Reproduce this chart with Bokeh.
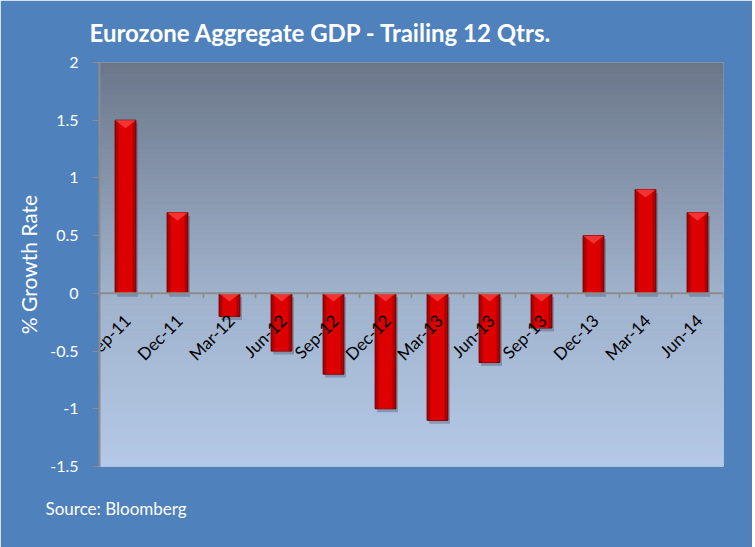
import numpy as np
from bokeh.plotting import figure
from bokeh.models import Range1d, FixedTicker, Span, Title
from bokeh.core.properties import value
from bokeh.embed import file_html
from bokeh.resources import INLINE

categories = ["Sep-11", "Dec-11", "Mar-12", "Jun-12", "Sep-12", "Dec-12",
              "Mar-13", "Jun-13", "Sep-13", "Dec-13", "Mar-14", "Jun-14"]
growth = [1.5, 0.7, -0.2, -0.5, -0.7, -1.0, -1.1, -0.6, -0.3, 0.5, 0.9, 0.7]
yticks = [-1.5, -1, -0.5, 0, 0.5, 1, 1.5, 2]
ytick_labels = ["-1.5", "-1", "-0.5", "0", "0.5", "1", "1.5", "2"]

title_text = "Eurozone Aggregate GDP - Trailing 12 Qtrs."
source_text = "Source: Bloomberg"
ylabel = "% Growth Rate"

BLUE = "#4F81BD"
GREY = "#8C8C8C"
FONT = "Lato"

n = len(categories)
xs = [i + 0.5 for i in range(n)]
bounds = list(range(n + 1))
ymin, ymax = yticks[0], yticks[-1]
bar_w = 0.4

p = figure(width=752, height=547, output_backend="svg", toolbar_location=None,
           x_range=Range1d(0, n), y_range=Range1d(ymin, ymax),
           min_border_left=99, min_border_right=29, min_border_top=62,
           min_border_bottom=81)
p.border_fill_color = BLUE
p.background_fill_color = "#A0B2CC"
p.outline_line_color = None

# gradient background (decoration)
def hex2rgb(h):
    h = h.lstrip("#")
    return np.array([int(h[i:i + 2], 16) for i in (0, 2, 4)], dtype=float)

stops_y = [ymin, 0.0, ymax]
stops_c = [hex2rgb("#B4C9E7"), hex2rgb("#A0B2CC"), hex2rgb("#6B7789")]
nb = 80
edges = np.linspace(ymin, ymax, nb + 1)
mids = (edges[:-1] + edges[1:]) / 2
cols = []
for m in mids:
    c = np.array([np.interp(m, stops_y, [s[k] for s in stops_c]) for k in range(3)])
    cols.append("#%02x%02x%02x" % tuple(int(round(v)) for v in c))
p.quad(left=0, right=n, bottom=edges[:-1], top=edges[1:], fill_color=cols,
       line_color=cols, line_width=1)

# grid
p.xgrid.visible = False
p.ygrid.ticker = FixedTicker(ticks=yticks)
p.ygrid.grid_line_color = "#DDE2E9"
p.ygrid.grid_line_width = 2

# y axis
p.yaxis.ticker = FixedTicker(ticks=yticks)
p.yaxis.major_label_overrides = {t: l for t, l in zip(yticks, ytick_labels)}
p.yaxis.major_label_text_color = "white"
p.yaxis.major_label_text_font = FONT
p.yaxis.major_label_text_font_size = "16px"
p.yaxis.major_tick_out = 7
p.yaxis.major_tick_in = 0
p.yaxis.minor_tick_line_color = None
p.yaxis.major_tick_line_color = GREY
p.yaxis.axis_line_color = GREY
p.yaxis.axis_line_width = 2
p.yaxis.major_label_standoff = 14
p.yaxis.axis_label = ylabel
p.yaxis.axis_label_text_color = "white"
p.yaxis.axis_label_text_font = FONT
p.yaxis.axis_label_text_font_style = "normal"
p.yaxis.axis_label_text_font_size = "21px"
p.yaxis.axis_label_standoff = 6

# x axis drawn at zero: line + downward ticks at category boundaries
p.xaxis.visible = False

# bars: shadow, body, highlight, top chevron
p.vbar(x=[x + 0.04 for x in xs], top=[g - 0.03 for g in growth],
       bottom=[-0.03] * n, width=bar_w, fill_color="#3A4A60", fill_alpha=0.35,
       line_color=None)
p.vbar(x=xs, top=growth, bottom=0, width=bar_w, fill_color="#B00000",
       line_color="#6E0000", line_width=1)
p.vbar(x=xs, top=growth, bottom=0, width=0.27, fill_color="#DC0000",
       line_color=None)
tops = [max(g, 0) for g in growth]
chev = 0.07
p.patches(xs=[[x - bar_w / 2, x + bar_w / 2, x] for x in xs],
          ys=[[t, t, t - chev] for t in tops],
          fill_color="#F23A3A", fill_alpha=0.9, line_color=None)

p.add_layout(Span(location=0, dimension="width", line_color=GREY, line_width=2))
p.ray(x=bounds, y=0, length=5, length_units="screen", angle=-np.pi / 2,
      line_color=GREY, line_width=1.5)

# category labels
p.text(x=xs, y=[0] * n, text=categories, angle=np.pi / 4, text_align="right",
       text_baseline="middle", x_offset=2, y_offset=24,
       text_font=value(FONT), text_font_size="17px", text_color="black")

# title and source
p.add_layout(Title(text=title_text, align="left", offset=-10, standoff=31,
                   text_font=FONT, text_font_style="bold",
                   text_font_size="24px", text_color="white"), "above")
p.add_layout(Title(text=source_text, align="left", offset=-54, standoff=58,
                   text_font=FONT, text_font_style="normal",
                   text_font_size="17px", text_color="white"), "below")

open("out.html", "w").write(file_html(p, INLINE))
